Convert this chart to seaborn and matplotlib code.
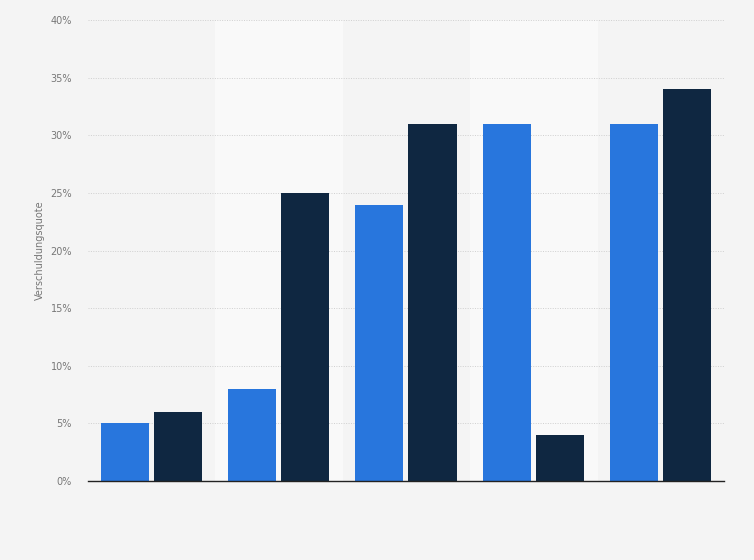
import matplotlib
matplotlib.use('Agg')
import pandas as pd
import matplotlib.pyplot as plt
import matplotlib.ticker as mticker
import seaborn as sns

# values (percent)
groups = ['1', '2', '3', '4', '5']
series_a = [5, 8, 24, 31, 31]
series_b = [6, 25, 31, 4, 34]
series_names = ['A', 'B']

df = pd.DataFrame({
    'group': groups * 2,
    'serie': [series_names[0]] * 5 + [series_names[1]] * 5,
    'wert': series_a + series_b,
})

sns.set_style('white')
plt.rcParams['font.family'] = ['DejaVu Sans']

fig = plt.figure(figsize=(7.54, 5.6), dpi=100)
fig.patch.set_facecolor('#f4f4f4')
ax = fig.add_axes([0.1167, 0.141, 0.8435, 0.823])
ax.set_facecolor('#f4f4f4')

# alternating light bands
for i in range(len(groups)):
    if i % 2 == 1:
        ax.axvspan(i - 0.5, i + 0.5, color='#f9f9f9', zorder=0)

sns.barplot(data=df, x='group', y='wert', hue='serie',
            palette=['#2876dd', '#0f2741'], saturation=1,
            width=0.835, gap=0.094, linewidth=0,
            ax=ax, legend=False, zorder=3)

ax.set_xlim(-0.5, len(groups) - 0.5)
ax.set_ylim(0, 40)
ax.yaxis.set_major_locator(mticker.MultipleLocator(5))
ax.yaxis.set_major_formatter(mticker.FuncFormatter(lambda v, p: f'{int(v)}%'))
ax.grid(axis='y', color='#cfcfcf', linestyle=(0, (1, 1.5)), linewidth=0.7, zorder=1)
ax.set_axisbelow(True)

for s in ['top', 'right', 'left']:
    ax.spines[s].set_visible(False)
ax.spines['bottom'].set_color('#222222')
ax.spines['bottom'].set_linewidth(1.0)
ax.spines['bottom'].set_zorder(5)

ax.set_xticks([])
ax.set_xlabel('')
ax.tick_params(axis='y', length=0, labelsize=7, labelcolor='#777777', pad=11.5)
ax.set_ylabel('Verschuldungsquote', fontsize=7, color='#777777', labelpad=4)

fig.savefig('out.png', dpi=100, facecolor=fig.get_facecolor())
